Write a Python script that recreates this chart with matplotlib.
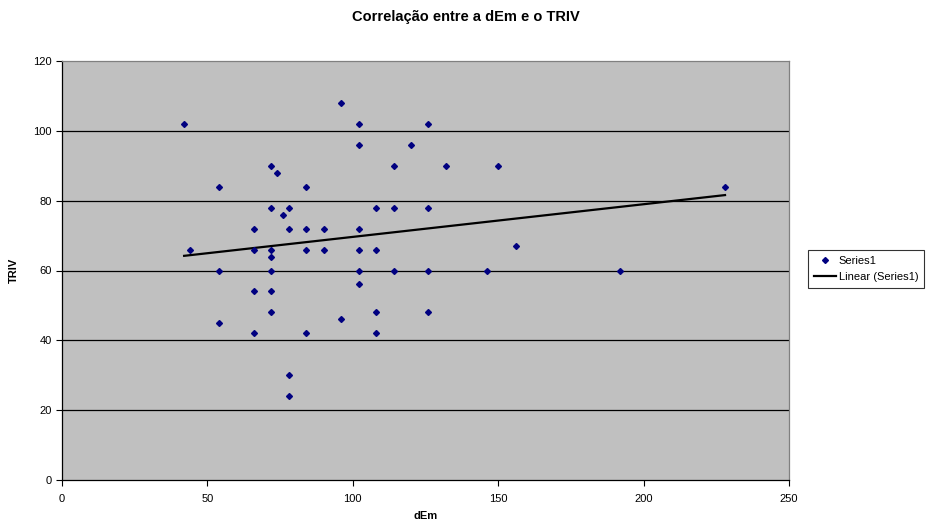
import numpy as np
import matplotlib.pyplot as plt

plt.rcParams['font.family'] = ['Liberation Sans', 'DejaVu Sans']

# dados
dem = [42, 44, 54, 54, 54, 66, 66, 66, 66, 72, 72, 72, 72, 72, 72, 72,
       74, 76, 78, 78, 78, 78, 84, 84, 84, 84, 90, 90, 96, 96,
       102, 102, 102, 102, 102, 102, 108, 108, 108, 108, 114, 114, 114,
       120, 126, 126, 126, 126, 132, 146, 150, 156, 192, 228]
triv = [102, 66, 84, 60, 45, 72, 66, 54, 42, 90, 78, 66, 64, 60, 54, 48,
        88, 76, 78, 72, 30, 24, 84, 72, 66, 42, 72, 66, 108, 46,
        102, 96, 72, 66, 60, 56, 78, 66, 48, 42, 90, 78, 60,
        96, 102, 78, 60, 48, 90, 60, 90, 67, 60, 84]

# linha de tendencia (extremos)
trend_x = [42, 228]
trend_y = [64.2, 81.6]

x_ticks = [0, 50, 100, 150, 200, 250]
y_ticks = [0, 20, 40, 60, 80, 100, 120]

fig = plt.figure(figsize=(9.31, 5.30), dpi=100)
ax = fig.add_axes([62 / 931, 1 - 480 / 530, 727 / 931, 419 / 530])
ax.set_facecolor('#C0C0C0')

for yy in y_ticks[1:-1]:
    ax.axhline(yy, color='black', linewidth=0.9, zorder=1)

ax.plot(dem, triv, linestyle='none', marker='D', markersize=3.0,
        color='#000080', label='Series1', zorder=3)
ax.plot(trend_x, trend_y, color='black', linewidth=1.6,
        label='Linear (Series1)', zorder=2)

ax.set_xlim(0, 250)
ax.set_ylim(0, 120)
ax.set_xticks(x_ticks)
ax.set_yticks(y_ticks)
ax.tick_params(labelsize=8, length=4, width=0.8, direction='out')
ax.tick_params(axis='x', pad=6)
ax.spines['left'].set_color('black')
ax.spines['bottom'].set_color('black')
ax.spines['top'].set_color('#808080')
ax.spines['right'].set_color('#808080')
for s in ax.spines.values():
    s.set_linewidth(0.9)

ax.set_xlabel('dEm', fontsize=8, fontweight='bold', labelpad=5)
ax.set_ylabel('TRIV', fontsize=8, fontweight='bold', labelpad=10)
fig.text(0.5, 1 - 17 / 530, 'Correlação entre a dEm e o TRIV',
         ha='center', va='center', fontsize=10.5, fontweight='bold')

leg = fig.legend(loc='center left', bbox_to_anchor=(806 / 931, 1 - 269 / 530),
                 fontsize=8, frameon=True, fancybox=False, handlelength=2.0,
                 handletextpad=0.25, borderpad=0.5, borderaxespad=0.2,
                 labelspacing=0.6)
leg.get_frame().set_edgecolor('black')
leg.get_frame().set_linewidth(0.8)

fig.savefig('out.png', dpi=100)
